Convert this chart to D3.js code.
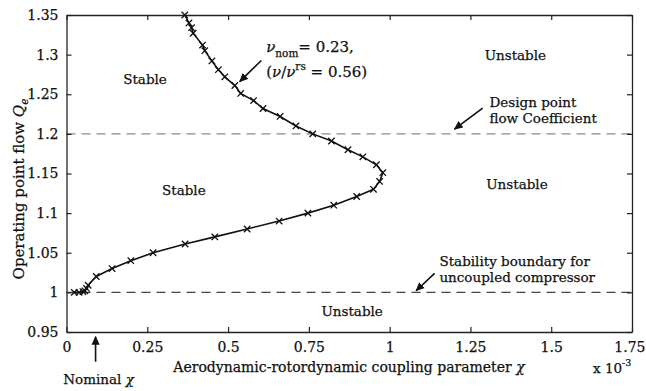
<!DOCTYPE html>
<html><head><meta charset="utf-8">
<script src="https://cdn.jsdelivr.net/npm/d3@7"></script>
<style>body{margin:0;background:#fff}svg{display:block}svg text{font-family:"DejaVu Serif",serif !important;fill:#111;stroke:#111;stroke-width:0.25px}</style>
</head><body>
<script>
// Data (chi in units of 1e-3, Q_e)
const chiVals = [0.366,0.379,0.387,0.392,0.421,0.428,0.450,0.470,0.490,0.521,0.539,0.579,0.608,0.661,0.710,0.762,0.820,0.871,0.917,0.959,0.979,0.969,0.950,0.898,0.827,0.747,0.658,0.559,0.459,0.367,0.268,0.199,0.141,0.092,0.067,0.062,0.057,0.051,0.039,0.024];
const qVals   = [1.350,1.340,1.334,1.327,1.312,1.305,1.292,1.281,1.272,1.261,1.251,1.242,1.232,1.222,1.210,1.200,1.191,1.180,1.171,1.161,1.151,1.140,1.130,1.121,1.110,1.100,1.090,1.080,1.070,1.061,1.050,1.040,1.030,1.020,1.009,1.005,1.002,1.001,1.000,1.000];
const xTicks = [0,0.25,0.5,0.75,1,1.25,1.5,1.75];
const xTickLabels = ["0","0.25","0.5","0.75","1","1.25","1.5","1.75"];
const yTicks = [0.95,1,1.05,1.1,1.15,1.2,1.25,1.3,1.35];
const yTickLabels = ["0.95","1","1.05","1.1","1.15","1.2","1.25","1.3","1.35"];
const refLines = [1.2, 1.0];
const regionLabels = [
  {t:"Stable", x:0.243, y:1.263},
  {t:"Stable", x:0.363, y:1.123},
  {t:"Unstable", x:1.389, y:1.293},
  {t:"Unstable", x:1.394, y:1.130},
  {t:"Unstable", x:0.884, y:0.9705}
];

const W=646,H=391;
const m={l:66.5,r:14,t:15,b:59};
const svg=d3.select("body").append("svg").attr("width",W).attr("height",H);
const x=d3.scaleLinear().domain([0,1.75]).range([m.l,W-m.r]);
const y=d3.scaleLinear().domain([0.95,1.35]).range([H-m.b,m.t]);

svg.append("defs").append("marker").attr("id","ah").attr("viewBox","0 0 10 10")
  .attr("refX",9).attr("refY",5).attr("markerWidth",9).attr("markerHeight",9)
  .attr("markerUnits","userSpaceOnUse").attr("orient","auto")
  .append("path").attr("d","M0,0.5 L10,5 L0,9.5 Z").attr("fill","#111");

// reference dashed lines
svg.selectAll(".ref").data(refLines).enter().append("line")
  .attr("x1",x(0)).attr("x2",x(1.75)).attr("y1",d=>y(d)).attr("y2",d=>y(d))
  .attr("stroke",(d,i)=>i==0?"#8a8a8a":"#444").attr("stroke-width",1.2)
  .attr("stroke-dasharray","9,6");

// axes
const fs=14;
const gB=svg.append("g").attr("transform",`translate(0,${y(0.95)})`)
  .call(d3.axisBottom(x).tickValues(xTicks).tickFormat((d,i)=>xTickLabels[i]).tickSizeInner(-5).tickSizeOuter(0).tickPadding(10));
const gT=svg.append("g").attr("transform",`translate(0,${y(1.35)})`)
  .call(d3.axisTop(x).tickValues(xTicks).tickFormat("").tickSizeInner(-5).tickSizeOuter(0));
const gL=svg.append("g").attr("transform",`translate(${x(0)},0)`)
  .call(d3.axisLeft(y).tickValues(yTicks).tickFormat((d,i)=>yTickLabels[i]).tickSizeInner(-5).tickSizeOuter(0).tickPadding(8));
const gR=svg.append("g").attr("transform",`translate(${x(1.75)},0)`)
  .call(d3.axisRight(y).tickValues(yTicks).tickFormat("").tickSizeInner(-5).tickSizeOuter(0));
[gB,gT,gL,gR].forEach(g=>{
  g.attr("font-family",null);
  g.select(".domain").attr("stroke","#222").attr("stroke-width",1.3);
  g.selectAll(".tick line").attr("stroke","#222").attr("stroke-width",1.2);
  g.selectAll("text").attr("font-size",fs).attr("fill","#111");
});
gB.selectAll(".tick text").filter(d=>d===1.75).attr("text-anchor","end").attr("dx",13);

// curve
const pts=chiVals.map((c,i)=>[c,qVals[i]]);
svg.append("path").datum(pts).attr("fill","none").attr("stroke","#111").attr("stroke-width",1.6)
  .attr("d",d3.line().x(d=>x(d[0])).y(d=>y(d[1])));
const s=3.2;
svg.selectAll(".mk").data(pts).enter().append("path")
  .attr("d",d=>{const px=x(d[0]),py=y(d[1]);return `M${px-s},${py-s}L${px+s},${py+s}M${px-s},${py+s}L${px+s},${py-s}`;})
  .attr("stroke","#111").attr("stroke-width",1.3);

// region labels
svg.selectAll(".rl").data(regionLabels).enter().append("text")
  .attr("x",d=>x(d.x)).attr("y",d=>y(d.y)).attr("text-anchor","middle").attr("font-size",13.5).text(d=>d.t);

// annotations
function txt(t,xv,yv,opt={}){return svg.append("text").attr("x",x(xv)).attr("y",y(yv)).attr("font-size",opt.fs||13.5).attr("text-anchor",opt.a||"start").text(t);}
txt("Design point",1.309,1.2345);
txt("flow Coefficient",1.309,1.2135);
txt("Stability boundary  for",1.154,1.0333);
txt("uncoupled compressor",1.154,1.0135);

const t1=svg.append("text").attr("x",x(0.618)).attr("y",y(1.3035)).attr("font-size",15);
t1.append("tspan").attr("font-style","italic").text("ν");
t1.append("tspan").attr("font-size",10.5).attr("dy",5).text("nom");
t1.append("tspan").attr("dy",-5).text("= 0.23,");
const t2=svg.append("text").attr("x",x(0.618)).attr("y",y(1.272)).attr("font-size",15);
t2.append("tspan").text("(");
t2.append("tspan").attr("font-style","italic").text("ν");
t2.append("tspan").text("/");
t2.append("tspan").attr("font-style","italic").text("ν");
t2.append("tspan").attr("font-size",10.5).attr("dy",-7).text("rs");
t2.append("tspan").attr("dy",7).text(" = 0.56)");

const arrows=[[0.603,1.2926,0.536,1.266],[1.2879,1.2325,1.2006,1.2060],[1.139,1.0240,1.082,1.0021],[0.090,0.9125,0.090,0.944]];
svg.selectAll(".ar").data(arrows).enter().append("line")
  .attr("x1",d=>x(d[0])).attr("y1",d=>y(d[1])).attr("x2",d=>x(d[2])).attr("y2",d=>y(d[3]))
  .attr("stroke","#111").attr("stroke-width",1.6).attr("marker-end","url(#ah)");

const nt=svg.append("text").attr("x",x(0.090)+3).attr("y",384).attr("text-anchor","middle").attr("font-size",13.5);
nt.append("tspan").text("Nominal ");
nt.append("tspan").attr("font-style","italic").text("χ");

// axis titles
const xl=svg.append("text").attr("x",349).attr("y",372).attr("text-anchor","middle").attr("font-size",14);
xl.append("tspan").text("Aerodynamic-rotordynamic coupling parameter ");
xl.append("tspan").attr("font-style","italic").text("χ");
const ex=svg.append("text").attr("x",593).attr("y",373).attr("font-size",13.5);
ex.append("tspan").text("x 10");
ex.append("tspan").attr("font-size",9.5).attr("dy",-7).text("-3");

const yl=svg.append("text").attr("transform",`translate(24,${(88+290)/2}) rotate(-90)`).attr("text-anchor","middle").attr("font-size",15);
yl.append("tspan").text("Operating point flow ");
yl.append("tspan").attr("font-style","italic").text("Q");
yl.append("tspan").attr("font-style","italic").attr("font-size",10.5).attr("dy",4).text("e");
</script>
</body></html>
